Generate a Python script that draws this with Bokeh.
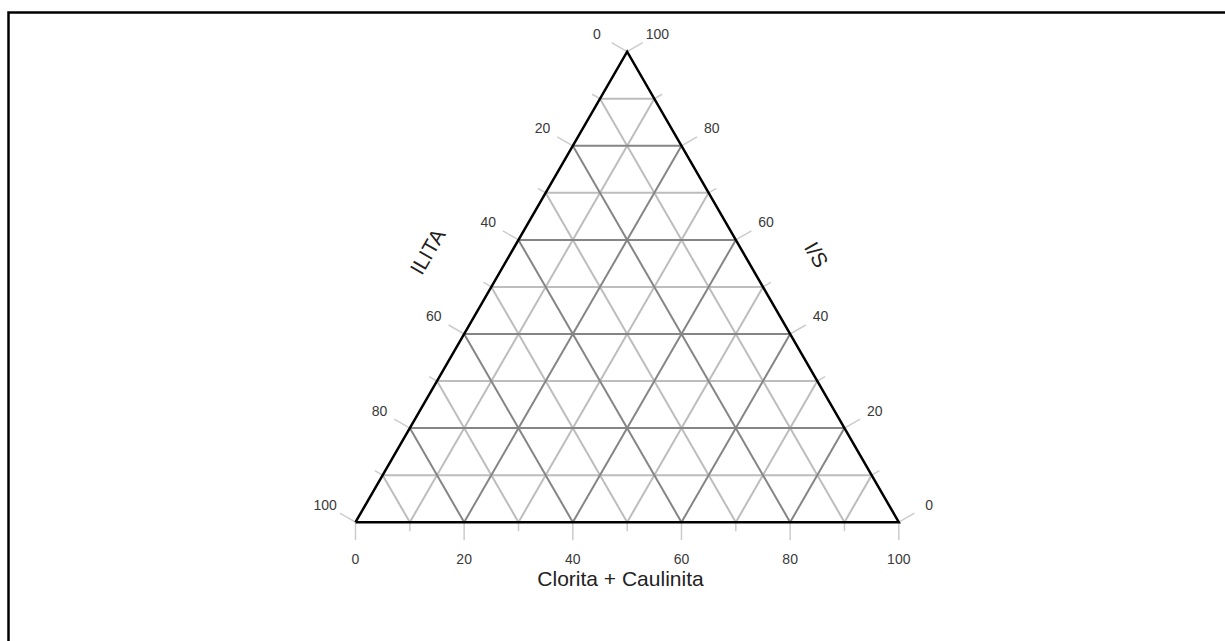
import math
from bokeh.plotting import figure
from bokeh.models import Range1d, ColumnDataSource
from bokeh.embed import file_html
from bokeh.resources import INLINE
from bokeh.core.properties import value

# Ternary diagram: three components summing to 100 %
bottom_title = "Clorita + Caulinita"   # bottom axis, 0 at left -> 100 at right
left_title = "ILITA"                   # left axis, 0 at apex -> 100 at bottom-left
right_title = "I/S"                    # right axis, 0 at bottom-right -> 100 at apex

grid_values = [10, 20, 30, 40, 50, 60, 70, 80, 90]
tick_values = [0, 10, 20, 30, 40, 50, 60, 70, 80, 90, 100]
label_values = [0, 20, 40, 60, 80, 100]
tick_labels = ["0", "20", "40", "60", "80", "100"]
major_step = 20

W, H = 1225, 641
SCALE = 5.433              # pixels per percent unit
ORIGIN = (355.0, 521.7)    # pixel position of the bottom-left vertex
S3 = math.sqrt(3) / 2
FONT = "Liberation Sans"


def tern(c, i, s):
    """Cartesian position of a composition (clorita, ilita, i/s)."""
    return c + s / 2.0, s * S3


def px(x, y):
    """Page pixel position -> data units (used for decorations only)."""
    return (x - ORIGIN[0]) / SCALE, (ORIGIN[1] - y) / SCALE


x0, y_top = px(0, 0)
x1, y_bot = px(W, H)

p = figure(width=W, height=H, output_backend="svg", toolbar_location=None,
           x_range=Range1d(x0, x1), y_range=Range1d(y_bot, y_top),
           min_border=0)
p.axis.visible = False
p.grid.visible = False
p.outline_line_color = None
p.background_fill_color = "white"
p.border_fill_color = "white"

# --- grid lines, three families -------------------------------------------
minor = dict(xs=[], ys=[])
major = dict(xs=[], ys=[])
for v in grid_values:
    segs = [
        (tern(v, 100 - v, 0), tern(v, 0, 100 - v)),        # constant clorita
        (tern(0, v, 100 - v), tern(100 - v, v, 0)),        # constant ilita
        (tern(0, 100 - v, v), tern(100 - v, 0, v)),        # constant i/s
    ]
    target = major if v % major_step == 0 else minor
    for a, b in segs:
        target["xs"].append([a[0], b[0]])
        target["ys"].append([a[1], b[1]])

p.multi_line("xs", "ys", source=ColumnDataSource(minor), line_color="#bdbdbd", line_width=2)
p.multi_line("xs", "ys", source=ColumnDataSource(major), line_color="#858585", line_width=2)

# --- ticks ----------------------------------------------------------------
dirs = {
    "bottom": (0.0, -1.0),
    "left": (-S3, 0.5),
    "right": (S3, 0.5),
}


def edge_point(axis, v):
    if axis == "bottom":
        return tern(v, 100 - v, 0)
    if axis == "left":
        return tern(0, v, 100 - v)
    return tern(100 - v, 0, v)


ticks = dict(xs=[], ys=[])
for axis, (dx, dy) in dirs.items():
    for v in tick_values:
        L = (18 if v % major_step == 0 else 9) / SCALE
        x, y = edge_point(axis, v)
        ticks["xs"].append([x, x + dx * L])
        ticks["ys"].append([y, y + dy * L])
p.multi_line("xs", "ys", source=ColumnDataSource(ticks), line_color="#cccccc", line_width=1.5)

# --- triangle outline ------------------------------------------------------
corners = [tern(0, 100, 0), tern(100, 0, 0), tern(0, 0, 100), tern(0, 100, 0)]
p.line([c[0] for c in corners], [c[1] for c in corners], line_color="black",
       line_width=2.5, line_join="miter")

# --- tick labels -----------------------------------------------------------
lab = dict(x=[], y=[], t=[])
for axis, (dx, dy) in dirs.items():
    dist = (36.5 if axis == "bottom" else 35) / SCALE
    for v, t in zip(label_values, tick_labels):
        x, y = edge_point(axis, v)
        lab["x"].append(x + dx * dist)
        lab["y"].append(y + dy * dist)
        lab["t"].append(t)
p.text("x", "y", text="t", source=ColumnDataSource(lab), text_font=value(FONT),
       text_font_size="14px", text_color="#3a3a3a", text_align="center",
       text_baseline="middle")

# --- axis titles -----------------------------------------------------------
bx, by = px(620, 578)
lx, ly = px(427, 251)
rx, ry = px(816, 254)
p.text([bx], [by], text=[bottom_title], text_font=value(FONT), text_font_size="21px",
       text_color="#222222", text_align="center", text_baseline="middle")
p.text([lx], [ly], text=[left_title], angle=math.pi / 3, text_font=value(FONT),
       text_font_size="21px", text_color="#222222", text_align="center",
       text_baseline="middle")
p.text([rx], [ry], text=[right_title], angle=-math.pi / 3, text_font=value(FONT),
       text_font_size="21px", text_color="#222222", text_align="center",
       text_baseline="middle")

# --- page frame (top and left rules) ---------------------------------------
fx = [px(8, H + 5)[0], px(8, 12)[0], px(W + 5, 12)[0]]
fy = [px(8, H + 5)[1], px(8, 12)[1], px(W + 5, 12)[1]]
p.line(fx, fy, line_color="black", line_width=2.5, line_join="miter")

open("out.html", "w").write(file_html(p, INLINE))
